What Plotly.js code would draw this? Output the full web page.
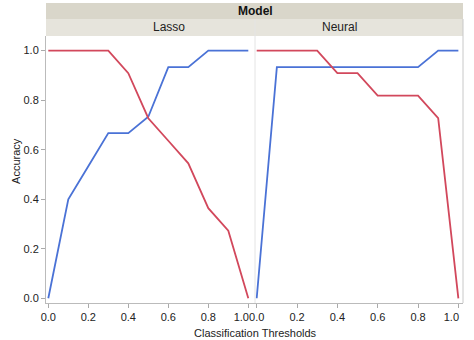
<!DOCTYPE html>
<html>
<head>
<meta charset="utf-8">
<script src="https://cdn.plot.ly/plotly-3.0.1.min.js"></script>
<style>html,body{margin:0;padding:0;background:#fff;}#chart{width:474px;height:340px;}</style>
</head>
<body>
<div id="chart"></div>
<script>
const thresholds = [0.0, 0.1, 0.2, 0.3, 0.4, 0.5, 0.6, 0.7, 0.8, 0.9, 1.0];
const lassoBlue = [0.0, 0.4, 0.533, 0.667, 0.667, 0.733, 0.933, 0.933, 1.0, 1.0, 1.0];
const lassoRed = [1.0, 1.0, 1.0, 1.0, 0.909, 0.727, 0.636, 0.545, 0.364, 0.273, 0.0];
const neuralBlue = [0.0, 0.933, 0.933, 0.933, 0.933, 0.933, 0.933, 0.933, 0.933, 1.0, 1.0];
const neuralRed = [1.0, 1.0, 1.0, 1.0, 0.909, 0.909, 0.818, 0.818, 0.818, 0.727, 0.0];
const panels = ['Lasso', 'Neural'];
const xTicksMain = [0.0, 0.2, 0.4, 0.6, 0.8];
const xTickLast = [1.0];
const yTicks = [0.0, 0.2, 0.4, 0.6, 0.8, 1.0];

const RED = '#d2485c', BLUE = '#4a72d6';
const lw = 1.8;
const traces = [
  {x: thresholds, y: lassoBlue, xaxis: 'x', yaxis: 'y', mode: 'lines', line: {color: BLUE, width: lw}},
  {x: thresholds, y: lassoRed, xaxis: 'x', yaxis: 'y', mode: 'lines', line: {color: RED, width: lw}},
  {x: thresholds, y: neuralBlue, xaxis: 'x2', yaxis: 'y', mode: 'lines', line: {color: BLUE, width: lw}},
  {x: thresholds, y: neuralRed, xaxis: 'x2', yaxis: 'y', mode: 'lines', line: {color: RED, width: lw}},
  // invisible placeholders so the overlay axes carrying the right-aligned "1.0" label are drawn
  {x: xTickLast, y: [null], xaxis: 'x3', yaxis: 'y', mode: 'lines', hoverinfo: 'skip'},
  {x: xTickLast, y: [null], xaxis: 'x4', yaxis: 'y', mode: 'lines', hoverinfo: 'skip'}
];

const FF = 'Liberation Sans, Arial, sans-serif';
const tickFont = {family: FF, size: 11, color: '#222'};
const fmt = v => v.toFixed(1);
const axBase = {
  showgrid: false, zeroline: false, ticks: 'outside', ticklen: 4, tickcolor: '#aaa',
  tickfont: tickFont, tickvals: xTicksMain, ticktext: xTicksMain.map(fmt),
  showline: true, linecolor: '#bbb', linewidth: 1, fixedrange: true
};
const axLast = {
  showgrid: false, zeroline: false, ticks: 'outside', ticklen: 4, tickcolor: '#aaa',
  tickfont: tickFont, tickvals: xTickLast, ticktext: xTickLast.map(fmt),
  ticklabelshift: -7, showline: false, fixedrange: true, side: 'bottom'
};
const dA = [0, 0.5012], dB = [0.5012, 1];
const rA = [-0.0115, 1.0335], rB = [-0.0084, 1.023];
const layout = {
  width: 474, height: 340,
  margin: {l: 46, r: 11, t: 36, b: 37},
  paper_bgcolor: '#fff', plot_bgcolor: '#fff',
  showlegend: false,
  xaxis: Object.assign({}, axBase, {domain: dA, range: rA, anchor: 'y'}),
  xaxis2: Object.assign({}, axBase, {domain: dB, range: rB, anchor: 'y'}),
  xaxis3: Object.assign({}, axLast, {domain: dA, range: rA, anchor: 'y', overlaying: 'x'}),
  xaxis4: Object.assign({}, axLast, {domain: dB, range: rB, anchor: 'y', overlaying: 'x2'}),
  yaxis: {
    range: [-0.019, 1.059], showgrid: false, zeroline: false, ticks: 'outside', ticklen: 4,
    tickcolor: '#aaa', tickfont: tickFont, tickvals: yTicks, ticktext: yTicks.map(fmt),
    showline: true, linecolor: '#bbb', linewidth: 1, fixedrange: true
  },
  shapes: [
    {type: 'rect', xref: 'paper', yref: 'paper', x0: 0, x1: 1, y0: 1.0637, y1: 1.1236,
     fillcolor: '#d9d6ca', line: {width: 0}, layer: 'below'},
    {type: 'rect', xref: 'paper', yref: 'paper', x0: 0, x1: 1, y0: 1.0, y1: 1.0637,
     fillcolor: '#e6e4dc', line: {width: 0}, layer: 'below'},
    {type: 'line', xref: 'paper', yref: 'paper', x0: 0.5012, x1: 0.5012, y0: 0, y1: 1.0637,
     line: {color: '#e4e4e4', width: 1}},
    {type: 'line', xref: 'paper', yref: 'paper', x0: 1, x1: 1, y0: 0, y1: 1.0637,
     line: {color: '#c8c8c8', width: 1}}
  ],
  annotations: [
    {text: '<b>Model</b>', xref: 'paper', yref: 'paper', x: 0.5012, y: 1.094, showarrow: false,
     font: {family: FF, size: 12, color: '#111'}, yanchor: 'middle'},
    {text: panels[0], xref: 'paper', yref: 'paper', x: 0.2506, y: 1.032, showarrow: false,
     font: {family: FF, size: 12, color: '#222'}, yanchor: 'middle'},
    {text: panels[1], xref: 'paper', yref: 'paper', x: 0.7506, y: 1.032, showarrow: false,
     font: {family: FF, size: 12, color: '#222'}, yanchor: 'middle'},
    {text: 'Classification Thresholds', xref: 'paper', yref: 'paper', x: 0.5012, y: -0.111,
     showarrow: false, yanchor: 'middle',
     font: {family: FF, size: 11, color: '#222'}},
    {text: 'Accuracy', xref: 'paper', yref: 'paper', x: -0.072, y: 0.532, textangle: -90,
     showarrow: false, xanchor: 'center', yanchor: 'middle',
     font: {family: FF, size: 11, color: '#222'}}
  ]
};
Plotly.newPlot('chart', traces, layout, {displayModeBar: false, staticPlot: true});
</script>
</body>
</html>
